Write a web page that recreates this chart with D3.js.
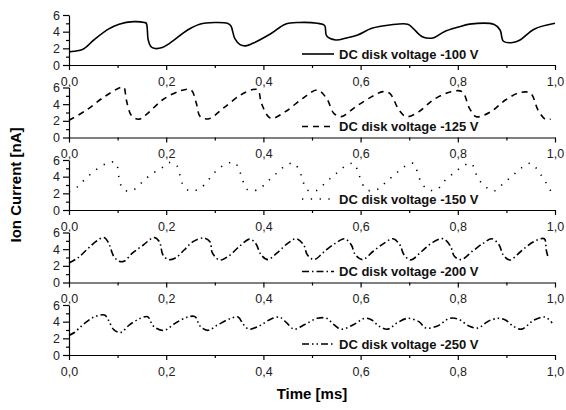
<!DOCTYPE html>
<html>
<head>
<meta charset="utf-8">
<script src="https://cdn.jsdelivr.net/npm/d3@7"></script>
<style>
  body { margin: 0; background: #fff; }
  svg { display: block; font-family: "Liberation Sans", Arial, sans-serif; }
  .axis path, .axis line { stroke: #000; stroke-width: 1.2; }
  .axis text { font-size: 12.5px; fill: #222; }
</style>
</head>
<body>
<div id="chart"></div>
<script>
// Ion current vs time, five disk voltages

const LABELS = ["DC disk voltage -100 V", "DC disk voltage -125 V", "DC disk voltage -150 V",
                "DC disk voltage -200 V", "DC disk voltage -250 V"];

const T100 = [0, 0.011, 0.029, 0.051, 0.081, 0.103, 0.133, 0.155, 0.159, 0.163, 0.168, 0.175, 0.192, 0.207, 0.244, 0.269, 0.30, 0.326, 0.333, 0.341, 0.352, 0.363, 0.378, 0.415, 0.445, 0.474, 0.511, 0.526, 0.530, 0.549, 0.571, 0.594, 0.623, 0.660, 0.697, 0.708, 0.727, 0.749, 0.772, 0.801, 0.824, 0.875, 0.887, 0.894, 0.913, 0.928, 0.957, 1.0];
const I100 = [1.58, 1.65, 1.9, 3.0, 4.3, 4.9, 5.2, 5.1, 5.0, 3.0, 2.25, 2.0, 2.1, 2.6, 4.2, 4.9, 5.1, 5.0, 4.7, 3.2, 2.45, 2.3, 2.6, 3.75, 4.9, 5.1, 5.0, 4.75, 3.5, 3.0, 3.25, 3.6, 4.4, 4.8, 4.9, 4.4, 3.4, 3.25, 4.0, 4.55, 4.9, 4.85, 4.2, 2.85, 2.7, 3.0, 4.3, 5.0];

const T125 = [0, 0.036, 0.073, 0.106, 0.113, 0.118, 0.129, 0.144, 0.162, 0.192, 0.229, 0.251, 0.262, 0.270, 0.288, 0.317, 0.353, 0.378, 0.389, 0.396, 0.415, 0.445, 0.481, 0.511, 0.530, 0.545, 0.560, 0.590, 0.623, 0.646, 0.660, 0.679, 0.694, 0.720, 0.749, 0.786, 0.809, 0.824, 0.838, 0.868, 0.898, 0.928, 0.950, 0.965, 0.980, 0.991];
const I125 = [2.05, 3.3, 4.9, 6.0, 6.0, 4.5, 2.6, 2.2, 2.9, 4.5, 5.6, 5.7, 4.1, 2.5, 2.25, 3.5, 5.1, 5.75, 5.7, 4.1, 2.3, 3.1, 4.7, 5.7, 4.7, 2.9, 2.5, 3.7, 4.9, 5.5, 5.3, 3.3, 2.5, 3.1, 4.5, 5.5, 5.5, 3.5, 2.5, 3.1, 4.5, 5.4, 5.3, 3.3, 2.2, 2.2];

const T150 = [0, 0.018, 0.033, 0.055, 0.078, 0.096, 0.103, 0.111, 0.129, 0.148, 0.166, 0.192, 0.207, 0.222, 0.233, 0.248, 0.270, 0.303, 0.326, 0.341, 0.352, 0.367, 0.389, 0.408, 0.426, 0.445, 0.463, 0.478, 0.489, 0.508, 0.530, 0.549, 0.567, 0.586, 0.597, 0.612, 0.634, 0.653, 0.671, 0.690, 0.708, 0.723, 0.738, 0.757, 0.771, 0.790, 0.809, 0.827, 0.842, 0.857, 0.875, 0.894, 0.913, 0.931, 0.950, 0.972, 0.991];
const I150 = [2.2, 2.8, 3.7, 4.8, 5.6, 5.7, 3.9, 2.5, 2.3, 3.2, 4.15, 5.1, 5.7, 5.3, 3.2, 2.3, 2.6, 4.7, 5.6, 5.7, 4.5, 2.45, 2.45, 3.4, 4.35, 5.3, 5.6, 4.15, 2.45, 2.3, 3.4, 4.35, 5.2, 5.6, 4.15, 2.45, 2.45, 3.4, 4.3, 5.2, 5.6, 3.55, 2.45, 2.45, 3.4, 4.35, 5.2, 5.6, 3.75, 2.8, 2.3, 3.2, 4.15, 5.05, 5.6, 4.15, 2.3];

const T200 = [0, 0.018, 0.036, 0.055, 0.072, 0.081, 0.092, 0.103, 0.113, 0.131, 0.153, 0.175, 0.186, 0.193, 0.204, 0.219, 0.237, 0.255, 0.277, 0.290, 0.295, 0.310, 0.328, 0.350, 0.372, 0.384, 0.395, 0.409, 0.428, 0.450, 0.468, 0.483, 0.490, 0.504, 0.526, 0.548, 0.567, 0.581, 0.589, 0.604, 0.626, 0.648, 0.667, 0.681, 0.689, 0.703, 0.726, 0.748, 0.770, 0.785, 0.793, 0.807, 0.830, 0.852, 0.870, 0.885, 0.893, 0.907, 0.930, 0.956, 0.978, 0.982, 0.986];
const I200 = [2.35, 2.95, 3.9, 4.9, 5.4, 4.8, 3.15, 2.55, 2.55, 3.55, 4.5, 5.4, 4.9, 3.35, 2.75, 2.95, 3.9, 4.9, 5.35, 4.9, 3.55, 2.7, 3.15, 4.3, 5.2, 4.7, 3.35, 2.75, 3.55, 4.7, 5.25, 4.5, 3.35, 2.75, 3.75, 4.7, 5.25, 4.5, 3.35, 2.75, 3.75, 4.7, 5.25, 4.5, 3.35, 2.7, 3.75, 4.8, 5.25, 4.35, 3.15, 2.75, 3.75, 4.7, 5.25, 4.5, 3.35, 2.7, 3.75, 4.9, 5.25, 3.9, 2.95];

const T250 = [0, 0.011, 0.029, 0.051, 0.073, 0.081, 0.092, 0.106, 0.125, 0.147, 0.162, 0.169, 0.176, 0.195, 0.221, 0.244, 0.259, 0.270, 0.285, 0.307, 0.333, 0.348, 0.359, 0.370, 0.392, 0.415, 0.433, 0.448, 0.463, 0.485, 0.511, 0.530, 0.545, 0.560, 0.586, 0.608, 0.623, 0.638, 0.656, 0.675, 0.697, 0.720, 0.734, 0.757, 0.783, 0.801, 0.824, 0.842, 0.861, 0.883, 0.898, 0.913, 0.931, 0.957, 0.980, 0.994];
const I250 = [2.35, 2.7, 3.65, 4.55, 4.8, 4.2, 3.05, 2.7, 3.65, 4.4, 4.6, 3.9, 3.35, 2.95, 3.9, 4.55, 4.6, 3.45, 2.95, 3.65, 4.4, 4.55, 3.65, 3.1, 3.5, 4.3, 4.55, 3.85, 3.1, 3.65, 4.4, 4.4, 3.65, 3.1, 3.65, 4.4, 4.2, 3.45, 3.1, 3.85, 4.4, 4.0, 3.25, 3.45, 4.4, 4.3, 3.45, 3.25, 4.0, 4.4, 4.2, 3.5, 3.1, 4.2, 4.55, 3.85];

const TIMES = [T100, T125, T150, T200, T250];
const CURRENTS = [I100, I125, I150, I200, I250];
const DASHES = [null, "6,5", "1.3,7.5", "7,3,1.5,3", "7,3,1.5,3,1.5,3"];

const X_TICKS = [0, 0.2, 0.4, 0.6, 0.8, 1.0];
const X_MINOR = [0.1, 0.3, 0.5, 0.7, 0.9];
const Y_TICKS = [0, 2, 4, 6];
const Y_MINOR = [1, 3, 5];

const W = 566, H = 410;
const margin = { left: 69, right: 11 };
const panelTop0 = 15, panelH = 50, panelStep = 72.5;

const svg = d3.select('#chart').append('svg')
    .attr('width', W)
    .attr('height', H);

const x = d3.scaleLinear().domain([0, 1]).range([margin.left, W - margin.right]);
const fmt = d => d3.format('.1f')(d).replace('.', ',');

LABELS.forEach((label, i) => {
    const top = panelTop0 + i * panelStep;
    const y = d3.scaleLinear().domain([0, 6]).range([top + panelH, top]);
    const g = svg.append('g');

    const pts = TIMES[i].map((t, k) => [t, CURRENTS[i][k]]);
    const line = d3.line()
        .x(d => x(d[0]))
        .y(d => y(d[1]))
        .curve(d3.curveCatmullRom.alpha(0.5));

    g.append('path')
        .datum(pts)
        .attr('d', line)
        .attr('fill', 'none')
        .attr('stroke', '#000')
        .attr('stroke-width', 1.6)
        .attr('stroke-dasharray', DASHES[i]);

    // minor ticks first, then main axes
    g.append('g').attr('class', 'axis')
        .attr('transform', `translate(0,${top + panelH})`)
        .call(d3.axisBottom(x).tickValues(X_MINOR).tickSize(3).tickFormat(''))
        .select('.domain').remove();
    g.append('g').attr('class', 'axis')
        .attr('transform', `translate(${margin.left},0)`)
        .call(d3.axisLeft(y).tickValues(Y_MINOR).tickSize(3).tickFormat(''))
        .select('.domain').remove();

    g.append('g').attr('class', 'axis')
        .attr('transform', `translate(0,${top + panelH})`)
        .call(d3.axisBottom(x).tickValues(X_TICKS).tickSize(5).tickSizeOuter(0).tickPadding(7).tickFormat(fmt));
    g.append('g').attr('class', 'axis')
        .attr('transform', `translate(${margin.left},0)`)
        .call(d3.axisLeft(y).tickValues(Y_TICKS).tickSize(6).tickSizeOuter(0).tickPadding(3).tickFormat(d3.format('d')));

    // legend
    const ly = top + 39;
    g.append('line')
        .attr('x1', 302).attr('x2', 334)
        .attr('y1', ly).attr('y2', ly)
        .attr('stroke', '#000')
        .attr('stroke-width', 1.6)
        .attr('stroke-dasharray', DASHES[i]);
    g.append('text')
        .attr('x', 339)
        .attr('y', ly + 4.5)
        .style('font-size', '13px')
        .style('font-weight', 'bold')
        .style('fill', '#111')
        .text(label);
});

svg.append('text')
    .attr('transform', `translate(21,${(panelTop0 + 4 * panelStep + panelH + panelTop0) / 2}) rotate(-90)`)
    .attr('text-anchor', 'middle')
    .style('font-size', '15px')
    .style('font-weight', 'bold')
    .text('Ion Current [nA]');

svg.append('text')
    .attr('x', (margin.left + W - margin.right) / 2)
    .attr('y', 399)
    .attr('text-anchor', 'middle')
    .style('font-size', '15px')
    .style('font-weight', 'bold')
    .text('Time [ms]');
</script>
</body>
</html>
